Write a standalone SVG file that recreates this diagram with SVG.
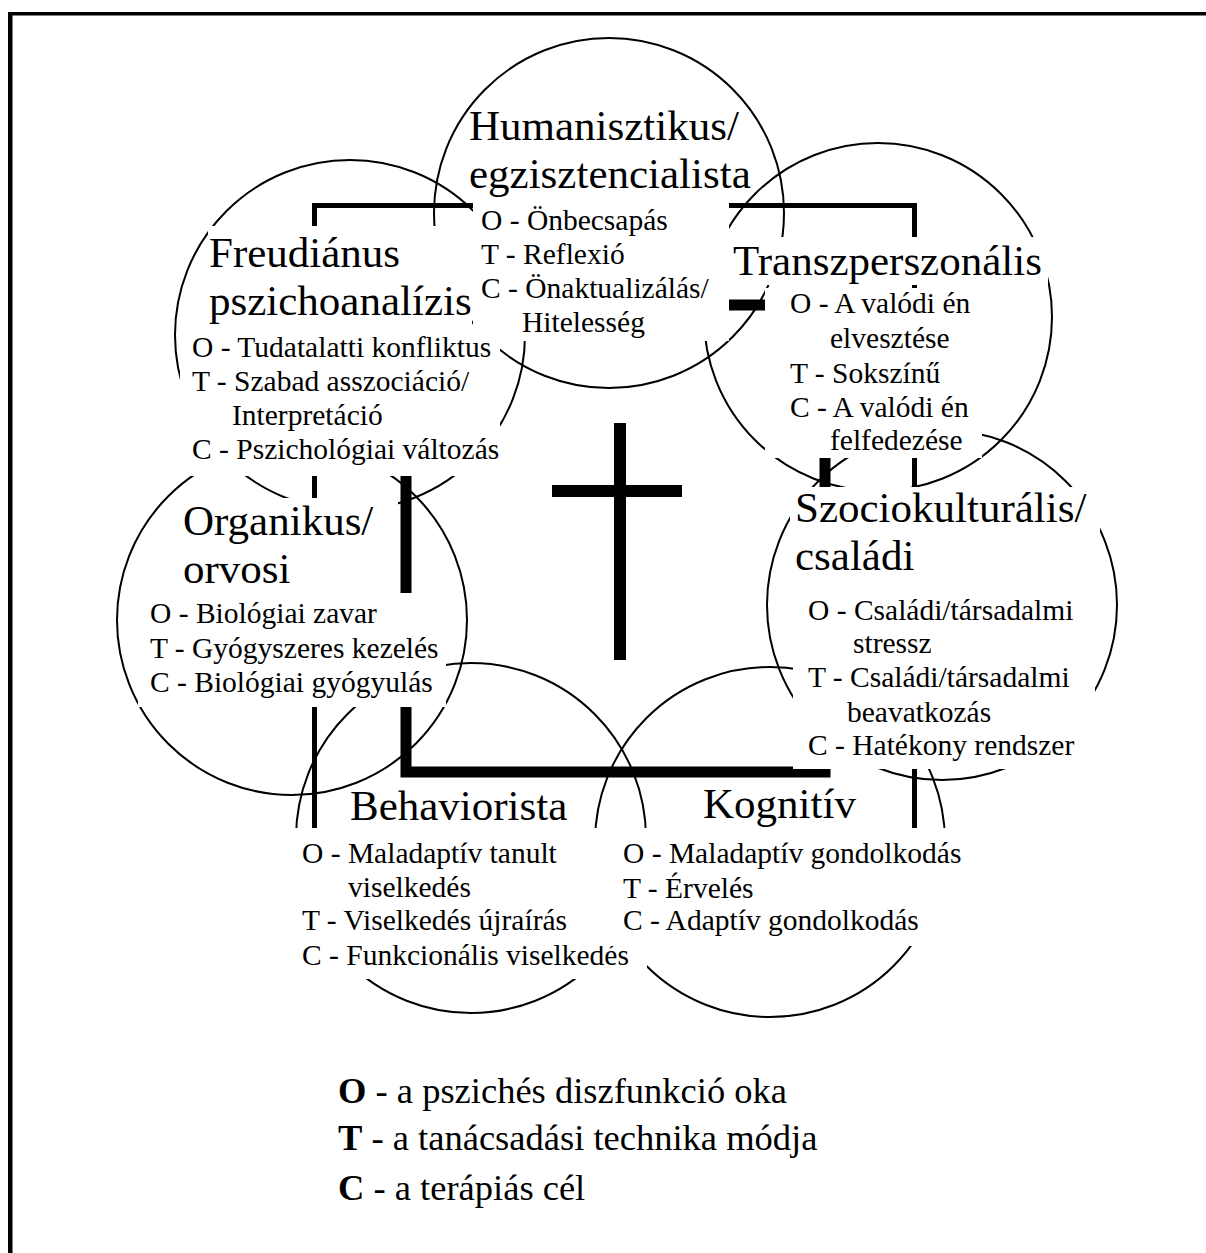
<svg xmlns="http://www.w3.org/2000/svg" width="1206" height="1253" viewBox="0 0 1206 1253">
<style>
.c{fill:none;stroke:#000;stroke-width:2}
.k{fill:none;stroke:#000;stroke-linejoin:miter}
.b{fill:#fff}
text{font-family:"Liberation Serif","Times New Roman",serif;fill:#000}
.h{font-size:43px}
.t{font-size:29.5px}
.l{font-size:36.5px}
</style>
<rect width="1206" height="1253" fill="#fff"/>
<g id="frame">
<rect x="8" y="12" width="4.5" height="1241" fill="#000"/>
<rect x="8" y="12" width="1198" height="3.5" fill="#000"/>
</g>
<g id="rings">
<circle id="ring-humanisztikus" class="c" cx="609" cy="213" r="175"/>
<circle id="ring-freud" class="c" cx="350" cy="335" r="175"/>
<circle id="ring-transz" class="c" cx="878" cy="317" r="174"/>
<circle id="ring-organikus" class="c" cx="292" cy="620" r="175"/>
<circle id="ring-szocio" class="c" cx="942" cy="605" r="175"/>
<circle id="ring-behaviorista" class="c" cx="471" cy="838" r="175"/>
<circle id="ring-kognitiv" class="c" cx="770" cy="842" r="175"/>
</g>
<g id="connectors">
<path class="k" stroke-width="5" d="M314.5,828 V205.5 H914.5 V828"/>
<path class="k" stroke-width="11" d="M406,470 V772 H825 V305 H700"/>
<rect x="614" y="423" width="12" height="237" fill="#000"/>
<rect x="552" y="485" width="130" height="12" fill="#000"/>
</g>
<g id="node-humanisztikus">
<rect class="b" x="469" y="110" width="279" height="86"/>
<rect class="b" x="473" y="198" width="256" height="143"/>
<text class="h" x="469" y="140">Humanisztikus/</text>
<text class="h" x="469" y="188">egzisztencialista</text>
<text class="t" x="481" y="230">O - Önbecsapás</text>
<text class="t" x="481" y="264">T - Reflexió</text>
<text class="t" x="481" y="298">C - Önaktualizálás/</text>
<text class="t" x="522" y="332">Hitelesség</text>
</g>
<g id="node-freud">
<rect class="b" x="208" y="226" width="264" height="114"/>
<rect class="b" x="180" y="340" width="320" height="136"/>
<text class="h" x="209" y="267">Freudiánus</text>
<text class="h" x="209" y="315">pszichoanalízis</text>
<text class="t" x="192" y="357">O - Tudatalatti konfliktus</text>
<text class="t" x="192" y="391">T - Szabad asszociáció/</text>
<text class="t" x="232" y="425">Interpretáció</text>
<text class="t" x="192" y="459">C - Pszichológiai változás</text>
</g>
<g id="node-transz">
<rect class="b" x="728" y="237" width="320" height="48"/>
<rect class="b" x="765" y="288" width="217" height="170"/>
<text class="h" x="733" y="275">Transzperszonális</text>
<text class="t" x="790" y="313">O - A valódi én</text>
<text class="t" x="830" y="348">elvesztése</text>
<text class="t" x="790" y="383">T - Sokszínű</text>
<text class="t" x="790" y="417">C - A valódi én</text>
<text class="t" x="830" y="450">felfedezése</text>
</g>
<g id="node-organikus">
<rect class="b" x="180" y="498" width="218" height="95"/>
<rect class="b" x="138" y="593" width="308" height="114"/>
<text class="h" x="183" y="535">Organikus/</text>
<text class="h" x="183" y="583">orvosi</text>
<text class="t" x="150" y="623">O - Biológiai zavar</text>
<text class="t" x="150" y="658">T - Gyógyszeres kezelés</text>
<text class="t" x="150" y="692">C - Biológiai gyógyulás</text>
</g>
<g id="node-szocio">
<rect class="b" x="790" y="487" width="310" height="50"/>
<rect class="b" x="790" y="537" width="130" height="58"/>
<rect class="b" x="793" y="595" width="302" height="174"/>
<text class="h" x="795" y="522">Szociokulturális/</text>
<text class="h" x="795" y="570">családi</text>
<text class="t" x="808" y="620">O - Családi/társadalmi</text>
<text class="t" x="853" y="653">stressz</text>
<text class="t" x="808" y="687">T - Családi/társadalmi</text>
<text class="t" x="847" y="722">beavatkozás</text>
<text class="t" x="808" y="755">C - Hatékony rendszer</text>
</g>
<g id="node-behaviorista">
<rect class="b" x="350" y="790" width="216" height="38"/>
<rect class="b" x="294" y="828" width="353" height="151"/>
<text class="h" x="350" y="820">Behaviorista</text>
<text class="t" x="302" y="863">O - Maladaptív tanult</text>
<text class="t" x="348" y="897">viselkedés</text>
<text class="t" x="302" y="930">T - Viselkedés újraírás</text>
<text class="t" x="302" y="965">C - Funkcionális viselkedés</text>
</g>
<g id="node-kognitiv">
<rect class="b" x="703" y="790" width="147" height="38"/>
<rect class="b" x="595" y="828" width="370" height="118"/>
<text class="h" x="703" y="818">Kognitív</text>
<text class="t" x="623" y="863">O - Maladaptív gondolkodás</text>
<text class="t" x="623" y="898">T - Érvelés</text>
<text class="t" x="623" y="930">C - Adaptív gondolkodás</text>
</g>
<g id="legend">
<text class="l" x="338" y="1103"><tspan font-weight="bold">O</tspan> - a pszichés diszfunkció oka</text>
<text class="l" x="338" y="1150"><tspan font-weight="bold">T</tspan> - a tanácsadási technika módja</text>
<text class="l" x="338" y="1200"><tspan font-weight="bold">C</tspan> - a terápiás cél</text>
</g>
</svg>
